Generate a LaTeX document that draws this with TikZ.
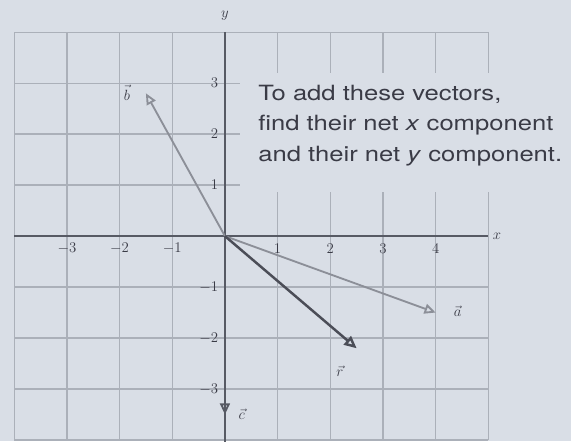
\documentclass[tikz,border=0pt]{standalone}
\usepackage{fontspec}
\usetikzlibrary{arrows.meta}
\newfontfamily\notefont[FakeStretch=1.22]{TeX Gyre Heros}
\definecolor{paper}{HTML}{D9DEE6}
\definecolor{rule}{HTML}{ABB0B9}
\definecolor{axisc}{HTML}{575A64}
\definecolor{vecc}{HTML}{8C8F98}
\definecolor{resc}{HTML}{4B4D57}
\definecolor{ink}{HTML}{3A3B46}
\tikzset{gridline/.style={rule,line width=1pt},
axisline/.style={axisc,line width=1.5pt},
vec/.style={-{Triangle[open,length=9pt,width=8pt]},line width=1.5pt,vecc},
res/.style={-{Triangle[open,length=10pt,width=9pt]},line width=2pt,resc},
tick/.style={font=\fontsize{12.5}{12.5}\selectfont,text=ink,inner sep=1pt},
veclab/.style={font=\fontsize{13}{13}\selectfont,text=ink,inner sep=1pt}}

\begin{document}
\begin{tikzpicture}[x=1.5cm,y=1.452cm]
\fill[paper] (-4.27,-4.02) rectangle (6.57,4.63);
\useasboundingbox (-4.27,-4.02) rectangle (6.57,4.63);
\foreach \i in {-4,...,5} \draw[gridline] (\i,-4)--(\i,4);
\foreach \j in {-4,...,4} \draw[gridline] (-4,\j)--(5,\j);
\fill[paper] (0.28,0.86) rectangle (6.57,3.2);
\draw[axisline] (-4,0)--(5,0);
\draw[axisline] (0,-4.1)--(0,4);
\node[tick,anchor=west] (xlab) at (5.06,0) {$x$};
\node[tick] (ylab) at (0,4.33) {$y$};
\foreach \i in {-3,-2,-1,1,2,3,4}
\node[tick] (x\i) at (\i,-0.25) {$\i$};
\foreach \i in {-3,-2,-1,1,2,3}
\node[tick,anchor=east] (y\i) at (-0.1,\i) {$\i$};
\coordinate (O) at (0,0);
\coordinate (A) at (4,-1.5);
\coordinate (B) at (-1.5,2.8);
\coordinate (C) at (0,-3.5);
\coordinate (R) at (2.5,-2.2);
\draw[vec] (O)--(A);
\draw[vec] (O)--(B);
\draw[vec,axisc] (O)--(C);
\draw[res] (O)--(R);
\node[veclab] (alab) at (4.42,-1.48) {$\vec{a}$};
\node[veclab] (blab) at (-1.86,2.78) {$\vec{\mathstrut b}$};
\node[veclab] (clab) at (0.32,-3.5) {$\vec{c}$};
\node[veclab] (rlab) at (2.18,-2.65) {$\vec{r}$};
\node[anchor=north west,align=left,inner sep=0pt,text=ink,
font=\notefont\fontsize{17}{24.5}\selectfont] (note) at (0.63,2.96)
{To add these vectors,\\find their net \emph{x} component\\and their net \emph{y} component.};
\end{tikzpicture}
\end{document}
